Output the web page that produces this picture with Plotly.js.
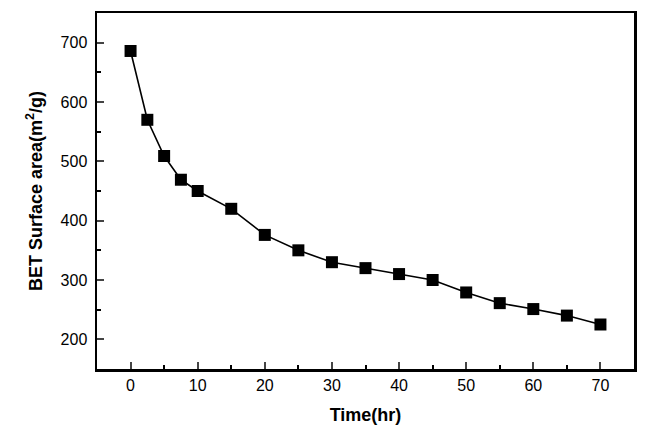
<!DOCTYPE html>
<html>
<head>
<meta charset="utf-8">
<script src="https://cdn.plot.ly/plotly-3.0.1.min.js"></script>
<style>html,body{margin:0;padding:0;background:#fff;}#chart{width:660px;height:436px;}</style>
</head>
<body>
<div id="chart"></div>
<script>
const timeHr = [0, 2.5, 5, 7.5, 10, 15, 20, 25, 30, 35, 40, 45, 50, 55, 60, 65, 70];
const betArea = [686, 570, 509, 469, 450, 420, 376, 350, 330, 320, 310, 300, 279, 261, 251, 240, 225];
const xTickVals = [0, 10, 20, 30, 40, 50, 60, 70];
const yTickVals = [200, 300, 400, 500, 600, 700];

const trace = {
  x: timeHr, y: betArea, type: 'scatter', mode: 'lines+markers',
  line: {color: '#000', width: 1.6},
  marker: {symbol: 'square', size: 12, color: '#000'},
  cliponaxis: false
};
const font = {family: 'Liberation Sans, Arial, sans-serif', color: '#000'};
const layout = {
  width: 660, height: 436,
  margin: {l: 97, r: 26, t: 13, b: 67},
  paper_bgcolor: '#fff', plot_bgcolor: '#fff',
  showlegend: false,
  font: font,
  xaxis: {
    range: [-5, 75], tickvals: xTickVals, ticks: 'inside', ticklen: 7, tickwidth: 2,
    minor: {dtick: 5, tick0: 0, ticks: 'inside', ticklen: 4, tickwidth: 2, tickcolor: '#000'},
    showline: true, linewidth: 2.5, linecolor: '#000', mirror: true, showgrid: false, zeroline: false,
    tickfont: {size: 16, family: font.family, color: '#000'},
    title: {text: '<b>Time(hr)</b>', font: {size: 18, family: font.family, color: '#000'}, standoff: 16}
  },
  yaxis: {
    range: [150, 750], tickvals: yTickVals, ticks: 'inside', ticklen: 7, tickwidth: 2,
    ticklabelstandoff: 4,
    minor: {dtick: 50, tick0: 0, ticks: 'inside', ticklen: 4, tickwidth: 2, tickcolor: '#000'},
    showline: true, linewidth: 2.5, linecolor: '#000', mirror: true, showgrid: false, zeroline: false,
    tickfont: {size: 16, family: font.family, color: '#000'},
    title: {text: '<b>BET Surface area(m<sup>2</sup>/g)</b>', font: {size: 18, family: font.family, color: '#000'}, standoff: 14}
  }
};
Plotly.newPlot('chart', [trace], layout, {displayModeBar: false, staticPlot: true});
</script>
</body>
</html>
